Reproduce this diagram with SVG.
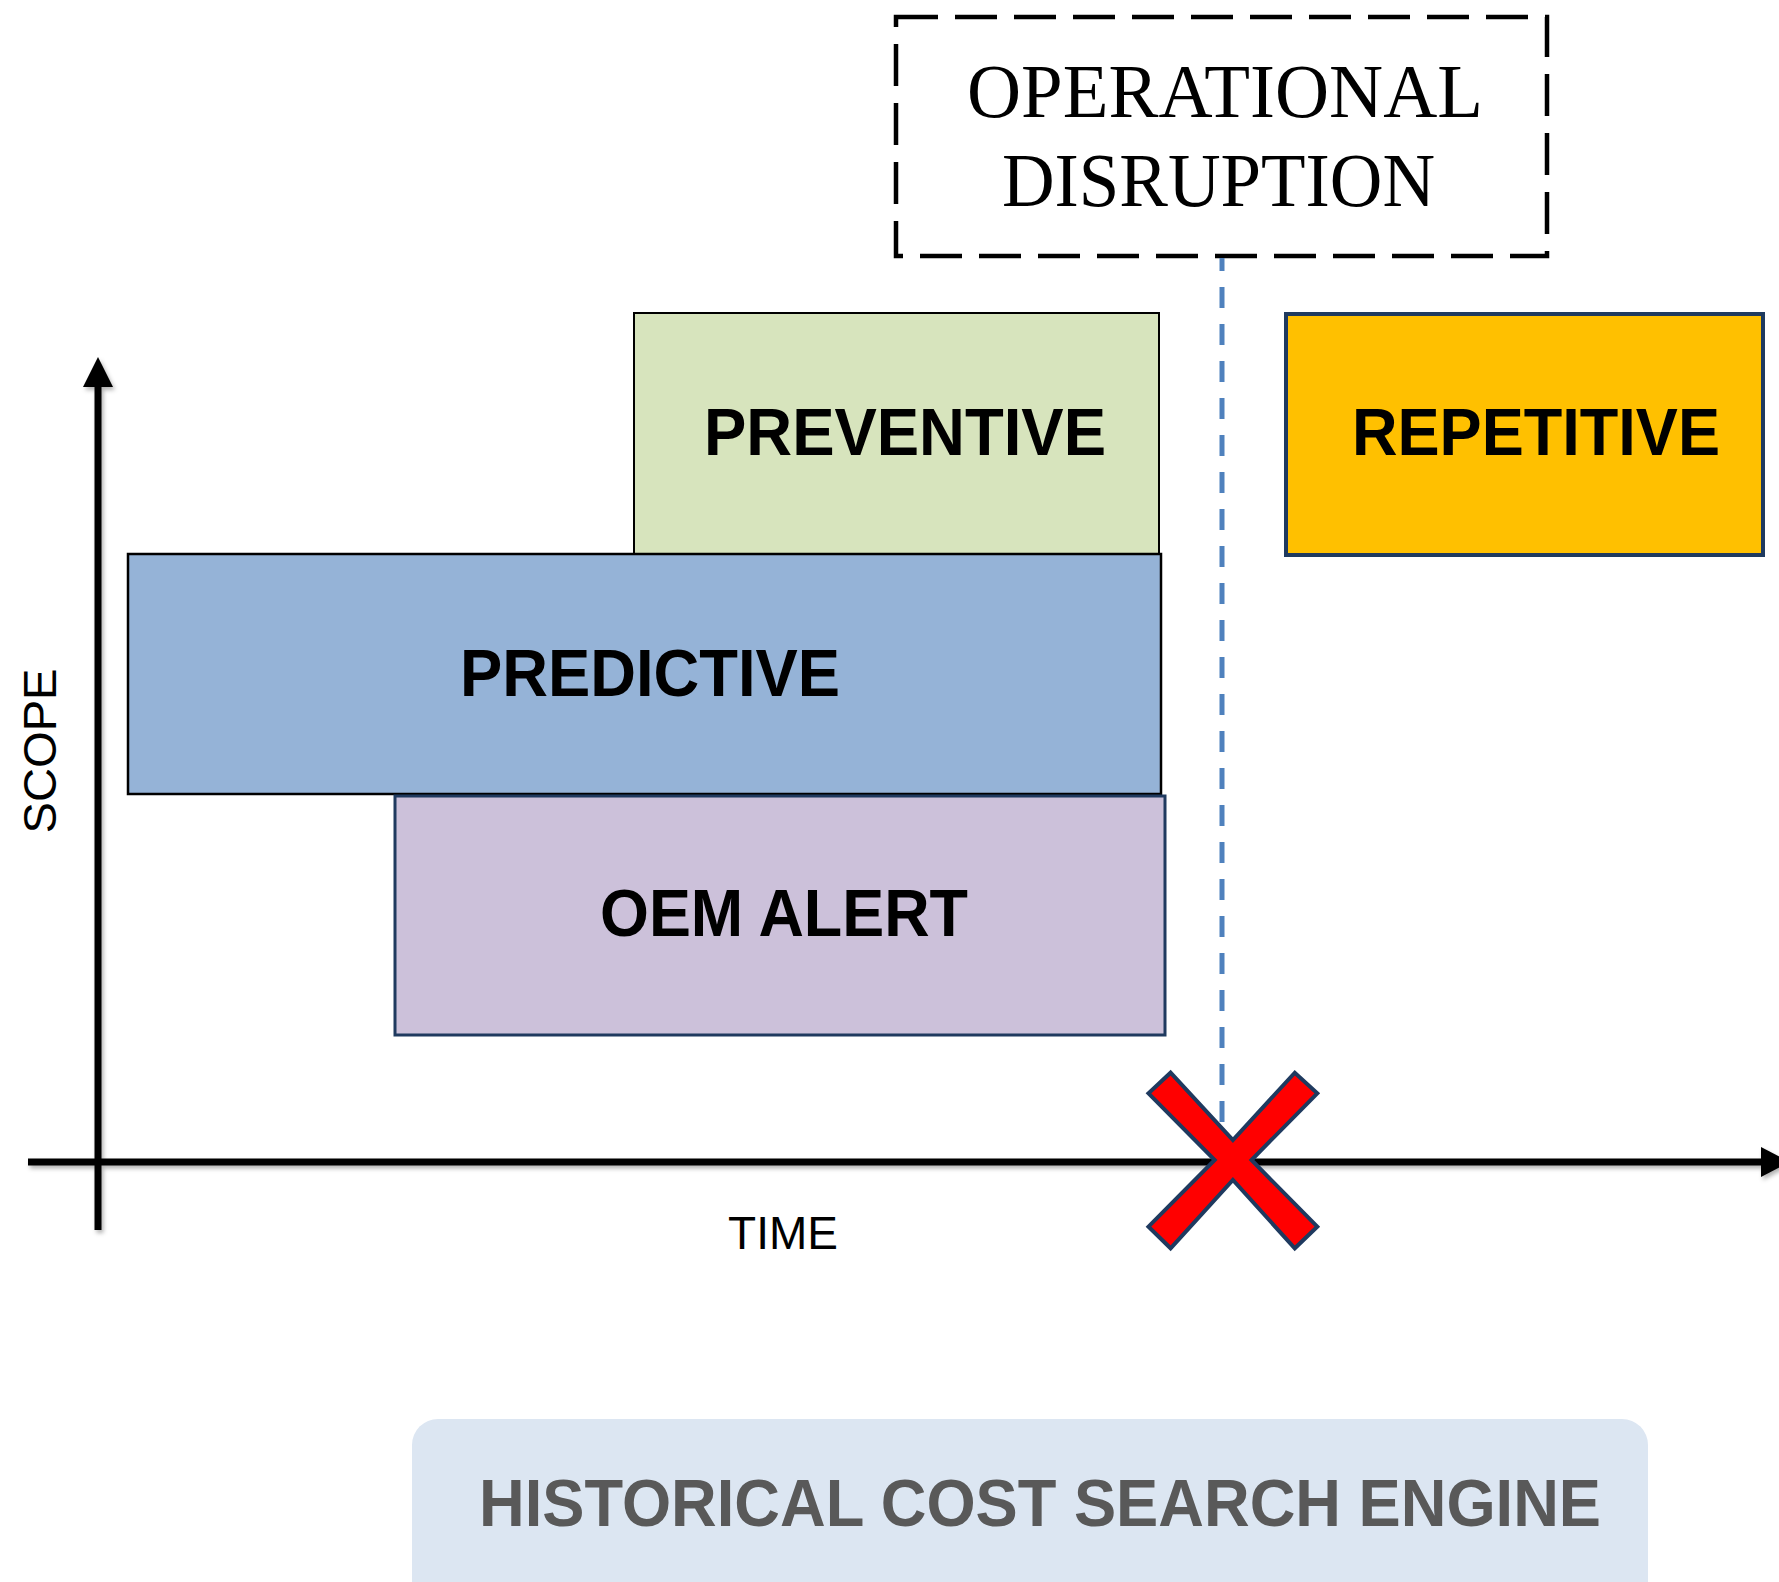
<svg xmlns="http://www.w3.org/2000/svg" width="1779" height="1582" viewBox="0 0 1779 1582">
  <defs>
    <style>
      .box { stroke-linejoin: miter; }
      .lbl { font-family: "Liberation Sans", Arial, sans-serif; font-weight: bold; font-size: 67px; fill: #000; text-anchor: middle; }
      .axislbl { font-family: "Liberation Sans", Arial, sans-serif; font-size: 46px; fill: #000; text-anchor: middle; }
      .serif { font-family: "Liberation Serif", "Times New Roman", serif; font-size: 77px; fill: #000; }
      .axis { stroke: #000; stroke-width: 7; fill: none; }
    </style>
    <filter id="shadow" x="-5%" y="-50%" width="110%" height="200%">
      <feDropShadow dx="2" dy="3" stdDeviation="2" flood-color="#000" flood-opacity="0.3"/>
    </filter>
    <filter id="blurgray" x="-200%" y="-5%" width="500%" height="110%">
      <feGaussianBlur stdDeviation="2.5"/>
    </filter>
  </defs>

  <rect width="1779" height="1582" fill="#fff"/>

  <g id="historical-cost-search-engine">
    <rect x="412" y="1419" width="1236" height="220" rx="26" ry="26" fill="#DCE6F2"/>
    <text x="1040" y="1526" font-family="Liberation Sans, Arial, sans-serif" font-weight="bold" font-size="66" fill="#595959" text-anchor="middle" textLength="1122" lengthAdjust="spacingAndGlyphs">HISTORICAL COST SEARCH ENGINE</text>
  </g>

  <g id="operational-disruption">
    <rect x="896" y="17" width="651" height="239" fill="none" stroke="#000" stroke-width="4.5" stroke-dasharray="42 17"/>
    <text class="serif" x="967" y="117" textLength="516" lengthAdjust="spacingAndGlyphs">OPERATIONAL</text>
    <text class="serif" x="1002" y="206" textLength="433" lengthAdjust="spacingAndGlyphs">DISRUPTION</text>
  </g>

  <g id="preventive">
    <rect class="box" x="634" y="313" width="525" height="241" fill="#D7E4BD" stroke="#000" stroke-width="2"/>
    <text class="lbl" x="905" y="455" textLength="402" lengthAdjust="spacingAndGlyphs">PREVENTIVE</text>
  </g>

  <g id="predictive">
    <rect class="box" x="128" y="554" width="1033" height="240" fill="#95B3D7" stroke="#000" stroke-width="2.5"/>
    <text class="lbl" x="650" y="696" textLength="380" lengthAdjust="spacingAndGlyphs">PREDICTIVE</text>
  </g>

  <g id="oem-alert">
    <rect class="box" x="395" y="796" width="770" height="239" fill="#CCC1DA" stroke="#1F3A5F" stroke-width="3"/>
    <text class="lbl" x="784" y="936" textLength="368" lengthAdjust="spacingAndGlyphs">OEM ALERT</text>
  </g>

  <g id="repetitive">
    <rect class="box" x="1286" y="314" width="477" height="241" fill="#FFC000" stroke="#1F3A5F" stroke-width="4"/>
    <text class="lbl" x="1536" y="455" textLength="368" lengthAdjust="spacingAndGlyphs">REPETITIVE</text>
  </g>

  <g id="connectors">
    <line x1="1225" y1="270" x2="1225" y2="1125" stroke="#9a9a9a" stroke-width="6" stroke-dasharray="21 16" stroke-dashoffset="-4" filter="url(#blurgray)" opacity="0.6"/>
    <line x1="1222" y1="258" x2="1222" y2="1160" stroke="#4F81BD" stroke-width="5" stroke-dasharray="21 16" stroke-dashoffset="8"/>
  </g>

  <g id="axes" filter="url(#shadow)">
    <line class="axis" x1="98" y1="1230" x2="98" y2="384"/>
    <polygon points="98,357 83,387 113,387" fill="#000"/>
    <line class="axis" x1="28" y1="1162" x2="1764" y2="1162"/>
    <polygon points="1790,1162 1761,1147 1761,1177" fill="#000"/>
  </g>

  <g id="axis-labels">
    <text class="axislbl" transform="translate(56,751) rotate(-90)" textLength="165" lengthAdjust="spacingAndGlyphs">SCOPE</text>
    <text class="axislbl" x="783" y="1249">TIME</text>
  </g>

  <g id="disruption-mark">
    <polygon points="1170.6,1072.7 1232.9,1140 1294.8,1072.7 1317.3,1093.3 1251.5,1160 1317.3,1226.7 1294.8,1248.3 1232.9,1180 1170.6,1248.3 1148.5,1226.7 1214.7,1160 1148.5,1093.3" fill="#FF0000" stroke="#1F3A5F" stroke-width="4" stroke-linejoin="miter"/>
  </g>
</svg>
